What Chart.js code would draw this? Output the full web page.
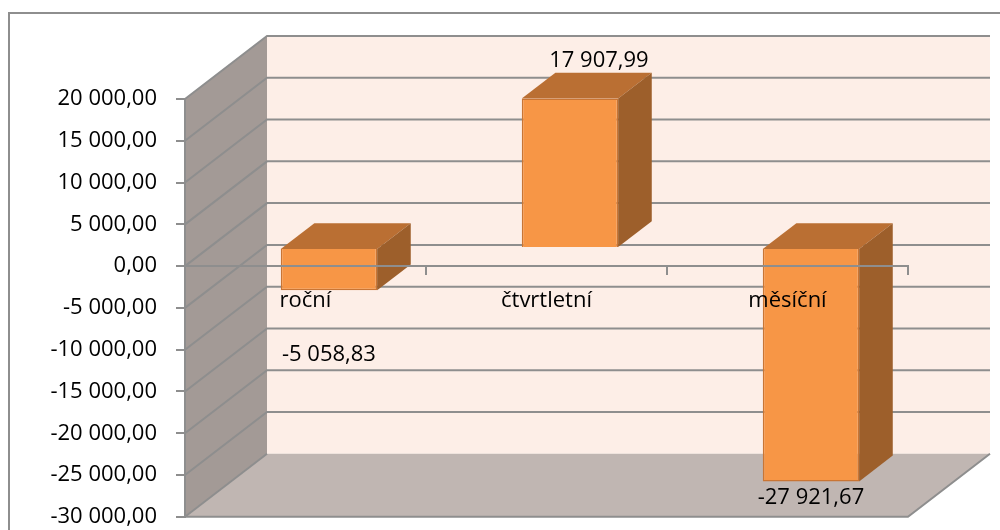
<!DOCTYPE html>
<html>
<head>
<meta charset="utf-8">
<script src="https://cdn.jsdelivr.net/npm/chart.js@4"></script>
<style>
  html, body { margin: 0; background: #ffffff; overflow: hidden; }
  /* taller than the window: the floor runs down to the window's bottom edge */
  #wrap { position: relative; width: 1000px; height: 549px; }
</style>
</head>
<body>
<div id="wrap"><canvas id="myChart"></canvas></div>
<script>
const categories = ["roční", "čtvrtletní", "měsíční"];
const values = [-5058.83, 17907.99, -27921.67];
const axisMin = -30000;
const axisMax = 20000;
const axisStep = 5000;

const FONT = "'Open Sans', 'Noto Sans', sans-serif";
const GRID = "#8e8e8e";

// 20 000,00 style numbers
function czNumber(v) {
  const parts = Math.abs(v).toFixed(2).split(".");
  const whole = parts[0].replace(/\B(?=(\d{3})+(?!\d))/g, " ");
  return (v < 0 ? "-" : "") + whole + "," + parts[1];
}

// walls, floor and grid of the 3D box, drawn behind everything
const box3d = {
  id: "box3d",
  beforeDraw(chart, args, opts) {
    const ctx = chart.ctx;
    const area = chart.chartArea;
    const y = chart.scales.y;
    const dx = opts.dx, dy = opts.dy;
    const L = area.left, R = area.right, T = area.top, B = area.bottom;

    ctx.save();
    // outer frame
    ctx.strokeStyle = GRID;
    ctx.lineWidth = 2;
    ctx.strokeRect(9, 13, 1010, 560);

    // back wall
    ctx.fillStyle = "#fdeee7";
    ctx.fillRect(L + dx, T + dy, R - L, B - T);

    // side wall
    ctx.fillStyle = "#a39a96";
    ctx.beginPath();
    ctx.moveTo(L, T);
    ctx.lineTo(L + dx, T + dy);
    ctx.lineTo(L + dx, B + dy);
    ctx.lineTo(L, B);
    ctx.closePath();
    ctx.fill();

    // floor
    ctx.fillStyle = "#c0b6b2";
    ctx.beginPath();
    ctx.moveTo(L, B);
    ctx.lineTo(L + dx, B + dy);
    ctx.lineTo(R + dx, B + dy);
    ctx.lineTo(R, B);
    ctx.closePath();
    ctx.fill();
    ctx.beginPath();
    ctx.moveTo(L, B);
    ctx.lineTo(R, B);
    ctx.lineTo(R + dx, B + dy);
    ctx.stroke();

    // grid lines running over the side wall and the back wall
    y.ticks.forEach((t) => {
      const p = y.getPixelForValue(t.value);
      ctx.beginPath();
      ctx.moveTo(L, p);
      ctx.lineTo(L + dx, p + dy);
      if (t.value !== axisMin) ctx.lineTo(R + dx, p + dy);
      ctx.stroke();
    });
    ctx.restore();
  },

  // bars sit a bit deeper than the front plane
  beforeDatasetsDraw(chart, args, opts) {
    const ctx = chart.ctx;
    const fx = opts.dx * opts.barFront, fy = opts.dy * opts.barFront;
    const bx = opts.dx * opts.barDepth, by = opts.dy * opts.barDepth;
    ctx.save();
    ctx.translate(fx, fy);
    chart.getDatasetMeta(0).data.forEach((bar) => {
      const left = bar.x - bar.width / 2, right = bar.x + bar.width / 2;
      const top = Math.min(bar.y, bar.base), bottom = Math.max(bar.y, bar.base);
      ctx.fillStyle = "#ba6f33";
      ctx.beginPath();
      ctx.moveTo(left, top);
      ctx.lineTo(left + bx, top + by);
      ctx.lineTo(right + bx, top + by);
      ctx.lineTo(right, top);
      ctx.closePath();
      ctx.fill();
      ctx.fillStyle = "#9d5f2b";
      ctx.beginPath();
      ctx.moveTo(right, top);
      ctx.lineTo(right + bx, top + by);
      ctx.lineTo(right + bx, bottom + by);
      ctx.lineTo(right, bottom);
      ctx.closePath();
      ctx.fill();
    });
  },

  afterDatasetsDraw(chart, args, opts) {
    const ctx = chart.ctx;
    ctx.restore();
    const fx = opts.dx * opts.barFront, fy = opts.dy * opts.barFront;
    ctx.save();
    ctx.font = "22px " + FONT;
    ctx.fillStyle = "#000000";
    ctx.textAlign = "center";
    ctx.textBaseline = "middle";
    chart.getDatasetMeta(0).data.forEach((bar, i) => {
      const off = opts.labelOffsets[i];
      ctx.fillText(czNumber(values[i]), bar.x + fx + off[0], bar.y + fy + off[1]);
    });
    ctx.restore();
  },
};

const ctx = document.getElementById("myChart").getContext("2d");
const chart = new Chart(ctx, {
  type: "bar",
  data: {
    labels: categories,
    datasets: [
      {
        data: values,
        backgroundColor: "#f79646",
        borderColor: "#c97534",
        borderWidth: 1.5,
        barPercentage: 0.4,
        categoryPercentage: 1,
        clip: false,
      },
    ],
  },
  plugins: [box3d],
  options: {
    responsive: true,
    maintainAspectRatio: false,
    animation: false,
    layout: { autoPadding: false, padding: { left: 0, top: 99, right: 92, bottom: 13 } },
    plugins: {
      legend: { display: false },
      tooltip: { enabled: false },
      box3d: {
        dx: 82,
        dy: -63,
        barFront: 0.286,
        barDepth: 0.41,
        labelOffsets: [[0, 64], [29, -38], [0, 16]],
      },
    },
    scales: {
      x: {
        position: { y: 0 },
        afterFit: (scale) => { scale.height = 0; },
        grid: {
          drawOnChartArea: false,
          color: GRID,
          lineWidth: 2,
          tickLength: 8,
          z: 1,
        },
        border: { color: GRID, width: 2, z: 1 },
        ticks: {
          color: "#000000",
          padding: 13,
          z: 1,
          font: { family: FONT, size: 22 },
        },
      },
      y: {
        position: "left",
        min: axisMin,
        max: axisMax,
        afterFit: (scale) => { scale.width = 185; },
        grid: {
          drawOnChartArea: false,
          color: GRID,
          lineWidth: 2,
          tickLength: 9,
        },
        border: { color: GRID, width: 2 },
        ticks: {
          stepSize: axisStep,
          color: "#000000",
          padding: 19,
          font: { family: FONT, size: 22 },
          callback: (value) => czNumber(value),
        },
      },
    },
  },
});
</script>
</body>
</html>
